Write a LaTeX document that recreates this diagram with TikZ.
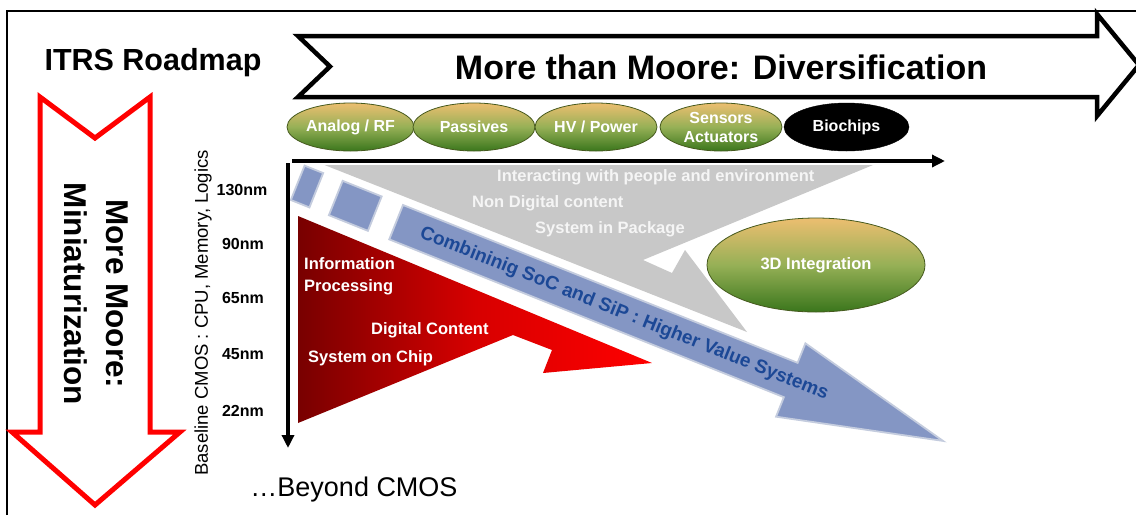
\documentclass[tikz,border=0pt]{standalone}
\usepackage{fontspec}
\setmainfont{Liberation Sans}
\usetikzlibrary{shapes.geometric,arrows.meta,calc}
\definecolor{pilltop}{RGB}{236,190,112}
\definecolor{pillmid}{RGB}{150,176,86}
\definecolor{pillbot}{RGB}{58,118,28}
\definecolor{pillline}{RGB}{70,90,30}
\definecolor{graybody}{RGB}{200,200,200}
\definecolor{bandfill}{RGB}{132,150,196}
\definecolor{bandline}{RGB}{196,204,222}
\definecolor{bandtext}{RGB}{28,72,150}
\definecolor{reddark}{RGB}{120,0,0}
\definecolor{redmid}{RGB}{215,0,0}
\definecolor{redbright}{RGB}{255,0,0}
\definecolor{graytext}{RGB}{245,245,245}
\begin{document}
\begin{tikzpicture}[x=1pt,y=-1pt,
  pill/.style={ellipse, draw=pillline, line width=0.8pt, top color=pilltop, bottom color=pillbot, middle color=pillmid, text=white, font=\bfseries\fontsize{16}{19}\selectfont, inner sep=0pt, minimum height=48pt, align=center},
  blackpill/.style={ellipse, fill=black, draw=black, text=white, font=\bfseries\fontsize{16}{19}\selectfont, inner sep=0pt, minimum height=48pt},
  axis/.style={line width=3.5pt, -{Triangle[length=13pt,width=12pt]}},
  band/.style={fill=bandfill, draw=bandline, line width=1.8pt, line join=miter},
  redtxt/.style={text=white, font=\bfseries\fontsize{16.5}{22}\selectfont, align=left, anchor=west, inner sep=0pt},
  graytxt/.style={text=graytext, font=\bfseries\fontsize{16.5}{18}\selectfont, anchor=west, inner sep=0pt},
  nm/.style={font=\bfseries\fontsize{16}{18}\selectfont, inner sep=0pt}
]
\useasboundingbox (0,0) rectangle (1136,515);
\fill[white] (0,0) rectangle (1136,515);
% frame
\draw[line width=1.5pt] (7,515) -- (7,11) -- (1136,11);
% title
\node[font=\bfseries\fontsize{30.5}{32}\selectfont, inner sep=0pt] (itrs) at (153,63) {ITRS Roadmap};
% top arrow
\draw[line width=4.5pt, fill=white, line join=miter] (298,36) -- (1097,36) -- (1097,14) -- (1139,65) -- (1097,116) -- (1097,97) -- (298,97) -- (330,66.5) -- cycle;
\node[font=\bfseries\fontsize{34}{36}\selectfont, inner sep=0pt] (title) at (721,67) {More than Moore: Diversification};
% left red arrow
\draw[line width=5pt, draw=red, fill=white, line join=miter] (40,97) -- (95,138) -- (150,97) -- (150,432) -- (180,432) -- (95,505) -- (12,432) -- (40,432) -- cycle;
\node[rotate=-90, font=\bfseries\fontsize{31.5}{42}\selectfont, align=center, inner sep=0pt] (mm) at (96,294) {More Moore:\\Miniaturization};
% gray shape
\fill[graybody] (324.5,165) -- (873,165) -- (643,260) -- (672,273) -- (685,250) -- (747,332) -- cycle;
% blue band
\begin{scope}[shift={(403,205)}, rotate=-21.8]
\filldraw[band] (-106,0) rectangle (-86,37);
\filldraw[band] (-65,0) rectangle (-23,37);
\filldraw[band] (0,0) -- (425,0) -- (425,-21) -- (589,18.5) -- (425,58) -- (425,37) -- (0,37) -- cycle;
\end{scope}
\node[rotate=-21.8, font=\bfseries\fontsize{19}{21}\selectfont, text=bandtext, inner sep=0pt] (combo) at (624,314) {Combininig SoC and SiP : Higher Value Systems};
% red shape
\shade[left color=reddark, right color=redbright, middle color=redmid] (298,216) -- (652,363) -- (543,373) -- (552,350) -- (513,335) -- (298,423) -- cycle;
% ellipses
\node[pill, minimum width=127pt] (analog) at (350.5,127) {Analog / RF};
\node[pill, minimum width=122pt] (passives) at (474,127) {Passives};
\node[pill, minimum width=122pt] (hv) at (596,127) {HV / Power};
\node[pill, minimum width=122pt] (sensors) at (721,127) {Sensors\\Actuators};
\node[blackpill, minimum width=125pt] (bio) at (846.5,127) {Biochips};
\node[pill, minimum width=218pt, minimum height=94pt, font=\bfseries\fontsize{16.5}{19}\selectfont] (int3d) at (816,265) {3D Integration};
% axes
\coordinate (htail) at (292,161);
\coordinate (hhead) at (945,161);
\coordinate (vtail) at (288,163);
\coordinate (vhead) at (288,448);
\draw[axis] (htail) -- (hhead);
\draw[axis] (vtail) -- (vhead);
% axis labels
\node[rotate=90, font=\fontsize{18.5}{20}\selectfont, inner sep=0pt] (base) at (203,313) {Baseline CMOS : CPU, Memory, Logics};
\node[nm] (n130) at (242,190) {130nm};
\node[nm] (n90) at (243,244) {90nm};
\node[nm] (n65) at (243,298) {65nm};
\node[nm] (n45) at (243,354) {45nm};
\node[nm] (n22) at (243,411) {22nm};
\node[font=\fontsize{27}{30}\selectfont, inner sep=0pt] (beyond) at (354,490) {…Beyond CMOS};
% gray texts
\node[graytxt] (g1) at (497,177) {Interacting with people and environment};
\node[graytxt] (g2) at (472,203) {Non Digital content};
\node[graytxt] (g3) at (535,229) {System in Package};
% red texts
\node[redtxt] (info) at (304,276) {Information\\Processing};
\node[redtxt] (dig) at (371,330) {Digital Content};
\node[redtxt] (soc) at (308,358) {System on Chip};
\end{tikzpicture}
\end{document}
